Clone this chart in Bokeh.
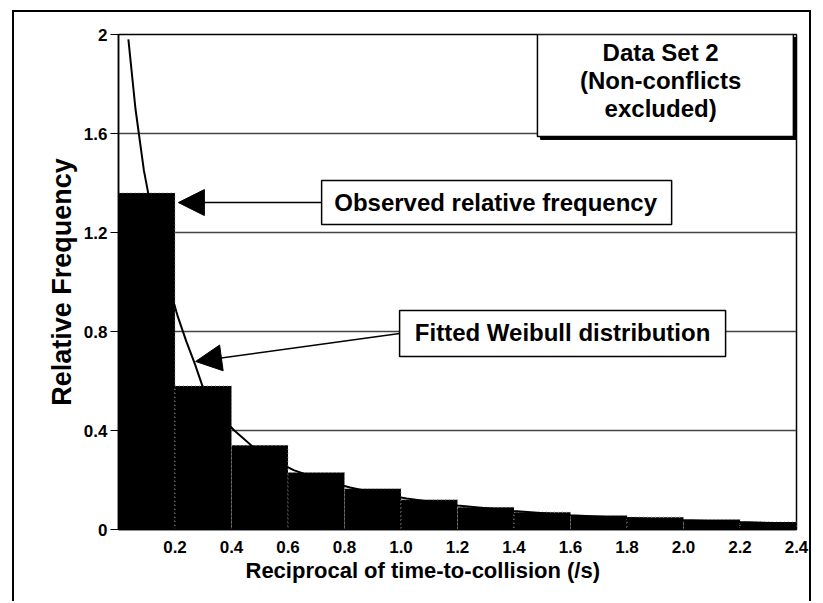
from bokeh.plotting import figure
from bokeh.models import (FixedTicker, Label, BoxAnnotation, Arrow, NormalHead,
                          ColumnDataSource, Title)
from bokeh.embed import file_html
from bokeh.resources import INLINE

# ---- data ----
bin_left = [0.0, 0.2, 0.4, 0.6, 0.8, 1.0, 1.2, 1.4, 1.6, 1.8, 2.0, 2.2]
bin_right = [0.2, 0.4, 0.6, 0.8, 1.0, 1.2, 1.4, 1.6, 1.8, 2.0, 2.2, 2.4]
observed_freq = [1.36, 0.58, 0.34, 0.23, 0.165, 0.12, 0.09, 0.07, 0.057, 0.05, 0.04, 0.03]

weibull_x = [0.035, 0.06, 0.09, 0.12, 0.15, 0.18, 0.21, 0.24, 0.27, 0.30, 0.35, 0.41,
             0.5, 0.62, 0.72, 0.82, 0.92, 1.02, 1.2, 1.4, 1.6, 1.8, 2.0, 2.2, 2.4]
weibull_y = [1.98, 1.70, 1.45, 1.27, 1.12, 0.98, 0.86, 0.76, 0.67, 0.57, 0.47, 0.40,
             0.31, 0.24, 0.20, 0.17, 0.145, 0.125, 0.097, 0.075, 0.058, 0.046, 0.037, 0.03, 0.024]

x_ticks = [0.2, 0.4, 0.6, 0.8, 1.0, 1.2, 1.4, 1.6, 1.8, 2.0, 2.2, 2.4]
x_tick_labels = ["0.2", "0.4", "0.6", "0.8", "1.0", "1.2", "1.4", "1.6", "1.8", "2.0", "2.2", "2.4"]
y_ticks = [0, 0.4, 0.8, 1.2, 1.6, 2]
y_tick_labels = ["0", "0.4", "0.8", "1.2", "1.6", "2"]

FONT = "Liberation Sans"
BOX_FS = "24px"

# canvas sits inside a page frame: margin (top, right, bottom, left) + 2px border
p = figure(width=799, height=591, x_range=(0, 2.4), y_range=(0, 2),
           output_backend="svg", toolbar_location=None,
           min_border_left=104, min_border_right=17, min_border_top=22, min_border_bottom=74)
p.margin = (10, 8, 0, 12)
p.styles = {"border-left": "2px solid black", "border-top": "2px solid black",
            "border-right": "2px solid black"}
p.background_fill_color = "white"
p.border_fill_color = "white"
p.outline_line_color = "black"
p.outline_line_width = 1.5

# grid
p.xgrid.visible = False
p.ygrid.ticker = FixedTicker(ticks=y_ticks)
p.ygrid.grid_line_color = "#444444"
p.ygrid.grid_line_width = 1.5

# axes
p.yaxis.ticker = FixedTicker(ticks=y_ticks)
p.yaxis.major_label_overrides = {t: l for t, l in zip(y_ticks, y_tick_labels)}
p.yaxis.major_tick_out = 8
p.yaxis.major_tick_in = 0
p.yaxis.minor_tick_line_color = None
p.yaxis.major_label_standoff = 3
p.yaxis.major_label_text_font = FONT
p.yaxis.major_label_text_font_style = "bold"
p.yaxis.major_label_text_font_size = "17px"
p.yaxis.major_label_text_color = "black"
p.yaxis.axis_line_width = 1.5
p.yaxis.axis_label = "Relative Frequency"
p.yaxis.axis_label_text_font = FONT
p.yaxis.axis_label_text_font_style = "bold"
p.yaxis.axis_label_text_font_size = "27px"
p.yaxis.axis_label_text_color = "black"
p.yaxis.axis_label_standoff = 4

p.xaxis.ticker = FixedTicker(ticks=x_ticks)
p.xaxis.major_label_overrides = {t: l for t, l in zip(x_ticks, x_tick_labels)}
p.xaxis.major_tick_out = 0
p.xaxis.major_tick_in = 0
p.xaxis.minor_tick_line_color = None
p.xaxis.major_label_standoff = 11
p.xaxis.major_label_text_font = FONT
p.xaxis.major_label_text_font_style = "bold"
p.xaxis.major_label_text_font_size = "17px"
p.xaxis.major_label_text_color = "black"
p.xaxis.axis_line_width = 1.5

# x axis title, shifted left like the original
p.add_layout(Title(text="Reciprocal of time-to-collision (/s)", align="left", offset=127,
                   text_font=FONT, text_font_style="bold", text_font_size="22px",
                   text_color="black", standoff=1), "below")

# bars
src = ColumnDataSource(dict(left=bin_left, right=bin_right, top=observed_freq,
                            bottom=[0] * len(bin_left)))
p.quad(left="left", right="right", top="top", bottom="bottom", source=src,
       fill_color="black", line_color="#9a9a9a", line_width=1, line_dash="1 3")

# fitted curve
p.line(weibull_x, weibull_y, line_color="black", line_width=2)

# Data Set box (with shadow)
p.add_layout(BoxAnnotation(left=1.494, right=2.4, top=1.988, bottom=1.576,
                           fill_color="black", fill_alpha=1, line_color="black", line_alpha=1))
p.add_layout(BoxAnnotation(left=1.483, right=2.389, top=2.0, bottom=1.588,
                           fill_color="white", fill_alpha=1, line_color="black",
                           line_alpha=1, line_width=1.5))
for yy, txt in [(1.927, "Data Set 2"), (1.814, "(Non-conflicts"), (1.701, "excluded)")]:
    p.add_layout(Label(x=1.919, y=yy, text=txt, text_font=FONT, text_font_style="bold",
                       text_font_size=BOX_FS, text_align="center", text_baseline="middle",
                       text_color="black"))

# Observed box + arrow
p.add_layout(BoxAnnotation(left=0.719, right=1.958, top=1.410, bottom=1.232,
                           fill_color="white", fill_alpha=1, line_color="black",
                           line_alpha=1, line_width=1.5))
p.add_layout(Label(x=1.335, y=1.321, text="Observed relative frequency", text_font=FONT,
                   text_font_style="bold", text_font_size=BOX_FS, text_align="center",
                   text_baseline="middle", text_color="black"))
p.add_layout(Arrow(x_start=0.719, y_start=1.321, x_end=0.212, y_end=1.321,
                   line_color="black", line_width=1.5,
                   end=NormalHead(size=26, fill_color="black", line_color="black")))

# Fitted box + arrow
p.add_layout(BoxAnnotation(left=0.995, right=2.149, top=0.885, bottom=0.699,
                           fill_color="white", fill_alpha=1, line_color="black",
                           line_alpha=1, line_width=1.5))
p.add_layout(Label(x=1.572, y=0.796, text="Fitted Weibull distribution", text_font=FONT,
                   text_font_style="bold", text_font_size=BOX_FS, text_align="center",
                   text_baseline="middle", text_color="black"))
p.add_layout(Arrow(x_start=0.995, y_start=0.792, x_end=0.273, y_end=0.679,
                   line_color="black", line_width=1.5,
                   end=NormalHead(size=26, fill_color="black", line_color="black")))

open("out.html", "w").write(file_html(p, INLINE))
